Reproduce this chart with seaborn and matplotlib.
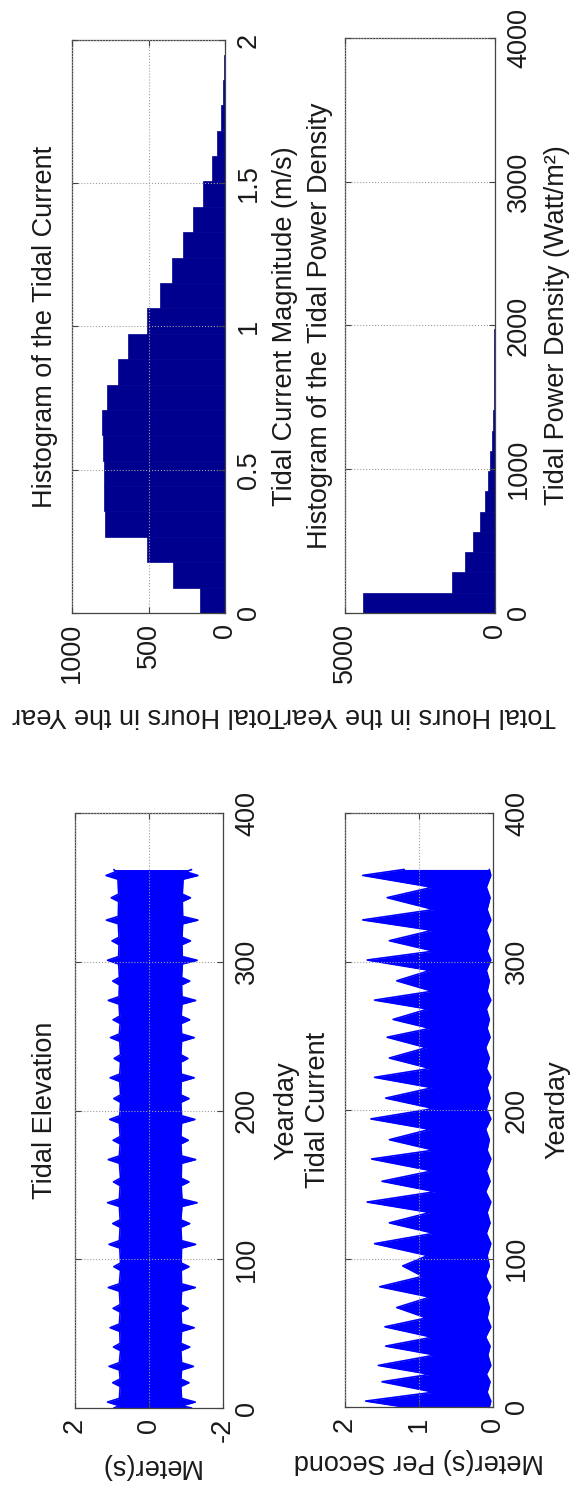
import numpy as np
import pandas as pd
import matplotlib
matplotlib.use("Agg")
import matplotlib.pyplot as plt
import seaborn as sns

# ---------------- data ----------------
# Histogram of the Tidal Current: 22 bins from 0 to ~1.95 m/s
current_bin_width = 0.0886
current_counts = [163, 340, 510, 785, 790, 790, 795, 805, 770, 700, 634,
                  510, 425, 348, 273, 208, 143, 85, 52, 25, 12, 5]

# Histogram of the Tidal Power Density: 22 bins from 0 to ~3100 W/m^2
power_bin_width = 141.0
power_counts = [4400, 1430, 1000, 730, 500, 340, 230, 160, 110, 75, 50,
                35, 25, 18, 12, 9, 6, 4, 3, 2, 1, 1]

# Tidal elevation envelope: (base, spike, base) around each spring tide
elev_days = [0,
             1.5, 4, 6.5, 14.5, 17, 19.5, 25.5, 28, 30.5, 38.5, 41, 43.5,
             51.5, 54, 56.5, 64.5, 67, 69.5, 78.5, 81, 83.5, 92.5, 95, 97.5,
             107.5, 110, 112.5, 121.5, 124, 126.5, 135.5, 138, 140.5,
             149.5, 152, 154.5, 164.5, 167, 169.5, 177.5, 180, 182.5,
             191.5, 194, 196.5, 205.5, 208, 210.5, 219.5, 222, 224.5,
             232.5, 235, 237.5, 246.5, 249, 251.5, 258.5, 261, 263.5,
             271.5, 274, 276.5, 284.5, 287, 289.5, 298.5, 301, 303.5,
             311.5, 314, 316.5, 325.5, 328, 330.5, 340.5, 343, 345.5,
             355.5, 358, 360.5,
             362]

elev_high = [0.95,
             0.80, 1.12, 0.80, 0.78, 0.98, 0.78, 0.80, 1.08, 0.80,
             0.77, 0.96, 0.78, 0.79, 1.05, 0.80, 0.78, 0.97, 0.78,
             0.80, 1.10, 0.80, 0.77, 0.95, 0.77, 0.79, 1.08, 0.80,
             0.78, 0.98, 0.78, 0.80, 1.12, 0.80, 0.78, 0.96, 0.77,
             0.80, 1.10, 0.80, 0.78, 0.97, 0.78, 0.80, 1.06, 0.79,
             0.77, 0.95, 0.77, 0.79, 1.05, 0.79, 0.77, 0.94, 0.77,
             0.79, 1.04, 0.80, 0.78, 0.97, 0.79, 0.81, 1.10, 0.81,
             0.80, 0.98, 0.80, 0.82, 1.12, 0.82, 0.81, 1.00, 0.81,
             0.83, 1.15, 0.83, 0.82, 1.02, 0.82, 0.84, 1.16, 0.90,
             0.95]

elev_low = [-1.15,
            -0.88, -1.25, -0.88, -0.86, -1.08, -0.86, -0.88, -1.20, -0.88,
            -0.86, -1.10, -0.86, -0.88, -1.22, -0.88, -0.86, -1.06, -0.86,
            -0.88, -1.25, -0.88, -0.87, -1.08, -0.87, -0.88, -1.26, -0.88,
            -0.86, -1.10, -0.86, -0.89, -1.30, -0.89, -0.87, -1.08, -0.87,
            -0.88, -1.26, -0.88, -0.86, -1.06, -0.86, -0.88, -1.24, -0.88,
            -0.86, -1.08, -0.86, -0.87, -1.22, -0.87, -0.86, -1.05, -0.86,
            -0.88, -1.22, -0.88, -0.87, -1.10, -0.87, -0.89, -1.26, -0.89,
            -0.88, -1.10, -0.88, -0.90, -1.30, -0.90, -0.89, -1.12, -0.89,
            -0.91, -1.32, -0.91, -0.90, -1.12, -0.90, -0.92, -1.32, -1.00,
            -1.15]

# Tidal current envelope: spring-tide spikes and troughs between them
curr_days = [0, 4, 10, 17, 22, 28, 35, 41, 47, 54, 60, 67, 74, 81, 88, 95,
             102, 110, 117, 124, 131, 138, 145, 152, 159, 167, 173, 180, 187,
             194, 201, 208, 215, 222, 228, 235, 242, 249, 255, 261, 268, 274,
             280, 287, 294, 301, 307, 314, 321, 328, 335, 343, 350, 358, 362]

curr_high = [1.20, 1.72, 0.80, 1.50, 0.85, 1.55, 0.78, 1.45, 0.82, 1.46, 0.90,
             1.30, 0.85, 1.53, 0.95, 1.22, 0.88, 1.60, 0.80, 1.40, 0.85, 1.70,
             0.78, 1.50, 0.82, 1.64, 0.80, 1.40, 0.85, 1.65, 0.80, 1.45, 0.82,
             1.60, 0.85, 1.40, 0.90, 1.43, 0.85, 1.35, 0.88, 1.60, 0.82, 1.30,
             0.85, 1.70, 0.80, 1.40, 0.82, 1.76, 0.80, 1.43, 0.82, 1.76, 1.20]

curr_low = [0.05, 0.03, 0.08, 0.04, 0.09, 0.03, 0.07, 0.04, 0.10, 0.03, 0.08,
            0.05, 0.09, 0.03, 0.10, 0.05, 0.08, 0.03, 0.09, 0.04, 0.08, 0.03,
            0.10, 0.04, 0.09, 0.03, 0.08, 0.05, 0.10, 0.03, 0.09, 0.04, 0.08,
            0.03, 0.09, 0.05, 0.10, 0.04, 0.08, 0.05, 0.09, 0.03, 0.08, 0.05,
            0.09, 0.03, 0.08, 0.04, 0.09, 0.03, 0.08, 0.04, 0.09, 0.03, 0.05]

# tick definitions
hc_count_ticks = [0, 500, 1000]
hc_mag_ticks = [0, 0.5, 1, 1.5, 2]
hc_mag_labels = ["0", "0.5", "1", "1.5", "2"]
hp_count_ticks = [0, 5000]
hp_pow_ticks = [0, 1000, 2000, 3000, 4000]
te_val_ticks = [-2, 0, 2]
tc_val_ticks = [0, 1, 2]
day_ticks = [0, 100, 200, 300, 400]

# ---------------- style ----------------
sns.set_style("white")
plt.rcParams["font.family"] = ["Liberation Sans", "DejaVu Sans"]
plt.rcParams["axes.unicode_minus"] = False
FS = 19.5
TXT = "#1a1a1a"
NAVY = "#00008f"
BLUE = "#0000ff"

W, H = 578, 1496
fig = plt.figure(figsize=(W / 100, H / 100), dpi=100)
fig.patch.set_facecolor("white")


def add_ax(l, r, t, b):
    return fig.add_axes([l / W, 1 - b / H, (r - l) / W, (b - t) / H])


ax_hc = add_ax(72, 225, 40, 613)
ax_hp = add_ax(345, 495, 38, 613)
ax_te = add_ax(75, 223, 813, 1408)
ax_tc = add_ax(345, 493, 813, 1407)

# ---------------- histograms (horizontal: counts along x) ----------------
cur_edges = np.arange(len(current_counts) + 1) * current_bin_width
df_cur = pd.DataFrame({"mag": (cur_edges[:-1] + cur_edges[1:]) / 2,
                       "hours": current_counts})
sns.histplot(data=df_cur, y="mag", weights="hours", bins=list(cur_edges),
             ax=ax_hc, color=NAVY, alpha=1, edgecolor=NAVY, linewidth=0.5)

pow_edges = np.arange(len(power_counts) + 1) * power_bin_width
df_pow = pd.DataFrame({"pd": (pow_edges[:-1] + pow_edges[1:]) / 2,
                       "hours": power_counts})
sns.histplot(data=df_pow, y="pd", weights="hours", bins=list(pow_edges),
             ax=ax_hp, color=NAVY, alpha=1, edgecolor=NAVY, linewidth=0.5)

# ---------------- time series (yearday along y) ----------------
ax_te.fill_betweenx(elev_days, elev_low, elev_high, color=BLUE, linewidth=0)
sns.lineplot(x=elev_high, y=elev_days, orient="y", sort=False, color=BLUE,
             lw=1.2, ax=ax_te)
sns.lineplot(x=elev_low, y=elev_days, orient="y", sort=False, color=BLUE,
             lw=1.2, ax=ax_te)

ax_tc.fill_betweenx(curr_days, curr_low, curr_high, color=BLUE, linewidth=0)
sns.lineplot(x=curr_high, y=curr_days, orient="y", sort=False, color=BLUE,
             lw=1.2, ax=ax_tc)
sns.lineplot(x=curr_low, y=curr_days, orient="y", sort=False, color=BLUE,
             lw=1.2, ax=ax_tc)


def style(ax, xlim, xticks, xticklabels, ylim, yticks, yticklabels,
          title, title_x, xlabel, xlabel_y, ylabel, ylabel_x):
    ax.set_xlim(xlim)
    ax.set_ylim(ylim)
    ax.set_xticks(xticks)
    ax.set_xticklabels(xticklabels)
    ax.set_yticks(yticks)
    ax.set_yticklabels(yticklabels)
    ax.set_xlabel("")
    ax.set_ylabel("")
    ax.tick_params(axis="both", which="both", direction="in", length=4,
                   width=0.8, color="#444444", top=True, bottom=True,
                   left=True, right=True, labelleft=False, labelright=True,
                   labelbottom=True, labeltop=False, labelsize=FS,
                   labelcolor=TXT)
    ax.tick_params(axis="x", labelrotation=90, pad=7)
    ax.tick_params(axis="y", labelrotation=90, pad=8)
    for lbl in ax.get_yticklabels():
        lbl.set_va("center")
    ax.grid(True, linestyle=":", color="#a0a0a0", linewidth=0.8)
    ax.set_axisbelow(False)
    for sp in ax.spines.values():
        sp.set_visible(True)
        sp.set_color("#444444")
        sp.set_linewidth(0.9)
    ax.text(title_x, 0.5, title, transform=ax.transAxes, rotation=90,
            ha="center", va="center", fontsize=FS, color=TXT)
    ax.text(0.5, xlabel_y, xlabel, transform=ax.transAxes, rotation=180,
            ha="center", va="center", fontsize=FS, color=TXT)
    ax.text(ylabel_x, 0.5, ylabel, transform=ax.transAxes, rotation=90,
            ha="center", va="center", fontsize=FS, color=TXT)


style(ax_hc, (1000, 0), hc_count_ticks, [str(v) for v in hc_count_ticks],
      (0, 2), hc_mag_ticks, hc_mag_labels,
      "Histogram of the Tidal Current", -0.176,
      "Total Hours in the Year", -0.178,
      "Tidal Current Magnitude (m/s)", 1.392)

style(ax_hp, (5000, 0), hp_count_ticks, [str(v) for v in hp_count_ticks],
      (0, 4000), hp_pow_ticks, [str(v) for v in hp_pow_ticks],
      "Histogram of the Tidal Power Density", -0.167,
      "Total Hours in the Year", -0.177,
      "Tidal Power Density (Watt/m²)", 1.413)

style(ax_te, (2, -2), te_val_ticks, [str(v) for v in te_val_ticks],
      (0, 400), day_ticks, [str(v) for v in day_ticks],
      "Tidal Elevation", -0.203,
      "Meter(s)", -0.0975,
      "Yearday", 1.426)

style(ax_tc, (2, 0), tc_val_ticks, [str(v) for v in tc_val_ticks],
      (0, 400), day_ticks, [str(v) for v in day_ticks],
      "Tidal Current", -0.182,
      "Meter(s) Per Second", -0.091,
      "Yearday", 1.432)

fig.savefig("out.png", dpi=100, facecolor="white")
